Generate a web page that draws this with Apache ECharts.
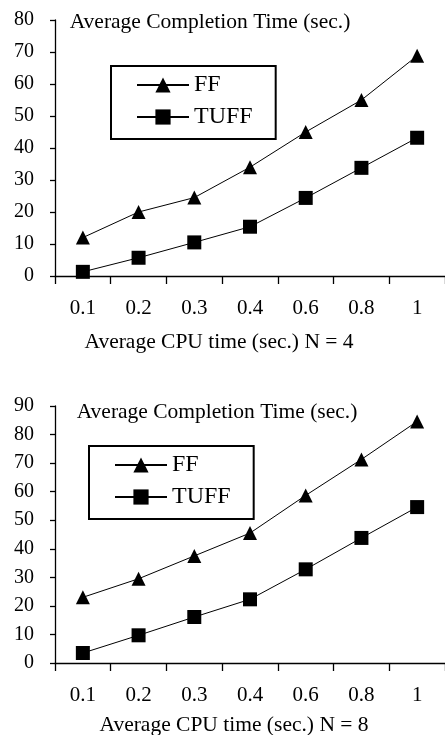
<!DOCTYPE html>
<html>
<head>
<meta charset="utf-8">
<script src="https://cdn.jsdelivr.net/npm/echarts@6/dist/echarts.min.js"></script>
<style>
html,body{margin:0;padding:0;background:#fff;}
#c{width:445px;height:735px;}
</style>
</head>
<body>
<div id="c"></div>
<script>
var categories = ['0.1', '0.2', '0.3', '0.4', '0.6', '0.8', '1'];
var ffN4 = [12, 20, 24.5, 34, 45, 55, 68.8];
var tuffN4 = [1.3, 5.7, 10.5, 15.4, 24.4, 33.8, 43.2];
var ffN8 = [23, 29.5, 37.5, 45.5, 58.7, 71.3, 84.6];
var tuffN8 = [3.5, 9.7, 16.1, 22.3, 32.8, 43.8, 54.6];
var yTitle = 'Average Completion Time (sec.)';
var xTitleN4 = 'Average CPU time (sec.) N = 4';
var xTitleN8 = 'Average CPU time (sec.) N = 8';
var seriesNames = ['FF', 'TUFF'];

var FONT = 'Liberation Serif, Times New Roman, serif';
var chart = echarts.init(document.getElementById('c'), null, {renderer: 'canvas'});

function xAxis(gi) {
  return {
    type: 'category', gridIndex: gi, data: categories, boundaryGap: true,
    axisLine: {lineStyle: {color: '#000', width: 1.3}},
    axisTick: {show: true, inside: false, length: 8, alignWithLabel: false, lineStyle: {color: '#000', width: 1.3}},
    axisLabel: {color: '#000', fontFamily: FONT, fontSize: 21, margin: 22, interval: 0},
    splitLine: {show: false}
  };
}
function yAxis(gi, max) {
  return {
    type: 'value', gridIndex: gi, min: 0, max: max, interval: 10,
    axisLine: {show: true, lineStyle: {color: '#000', width: 1.3}},
    axisTick: {show: true, length: 5, lineStyle: {color: '#000', width: 1.3}},
    axisLabel: {color: '#000', fontFamily: FONT, fontSize: 20, margin: 21},
    splitLine: {show: false}
  };
}
function lineSeries(name, data, gi, symbol, size) {
  return {
    type: 'line', name: name, data: data, xAxisIndex: gi, yAxisIndex: gi,
    symbol: symbol, symbolSize: size, showAllSymbol: true,
    itemStyle: {color: '#000'},
    lineStyle: {color: '#000', width: 1},
    animation: false
  };
}
function legend(left, top) {
  return {
    left: left, top: top, orient: 'vertical',
    data: seriesNames,
    itemWidth: 52, itemHeight: 19, itemGap: 8,
    padding: [7, 23, 10, 25],
    borderColor: '#000', borderWidth: 2,
    textStyle: {color: '#000', fontFamily: FONT, fontSize: 24, lineHeight: 23},
    selectedMode: false
  };
}
function text(x, y, s) {
  return {type: 'text', x: x, y: y, style: {text: s, fill: '#000', font: '21.5px ' + FONT, align: 'center', verticalAlign: 'middle'}};
}

chart.setOption({
  backgroundColor: '#fff',
  animation: false,
  grid: [
    {left: 55, top: 20, width: 392, height: 256, containLabel: false},
    {left: 55, top: 406, width: 392, height: 257, containLabel: false}
  ],
  xAxis: [xAxis(0), xAxis(1)],
  yAxis: [yAxis(0, 80), yAxis(1, 90)],
  legend: [legend(111, 66), legend(89, 446)],
  series: [
    lineSeries('FF', ffN4, 0, 'triangle', 14),
    lineSeries('TUFF', tuffN4, 0, 'rect', 14),
    lineSeries('FF', ffN8, 1, 'triangle', 14),
    lineSeries('TUFF', tuffN8, 1, 'rect', 14)
  ],
  graphic: [
    text(210, 22, yTitle),
    text(219, 342, xTitleN4),
    text(217, 412, yTitle),
    text(234, 725, xTitleN8)
  ]
});
</script>
</body>
</html>
